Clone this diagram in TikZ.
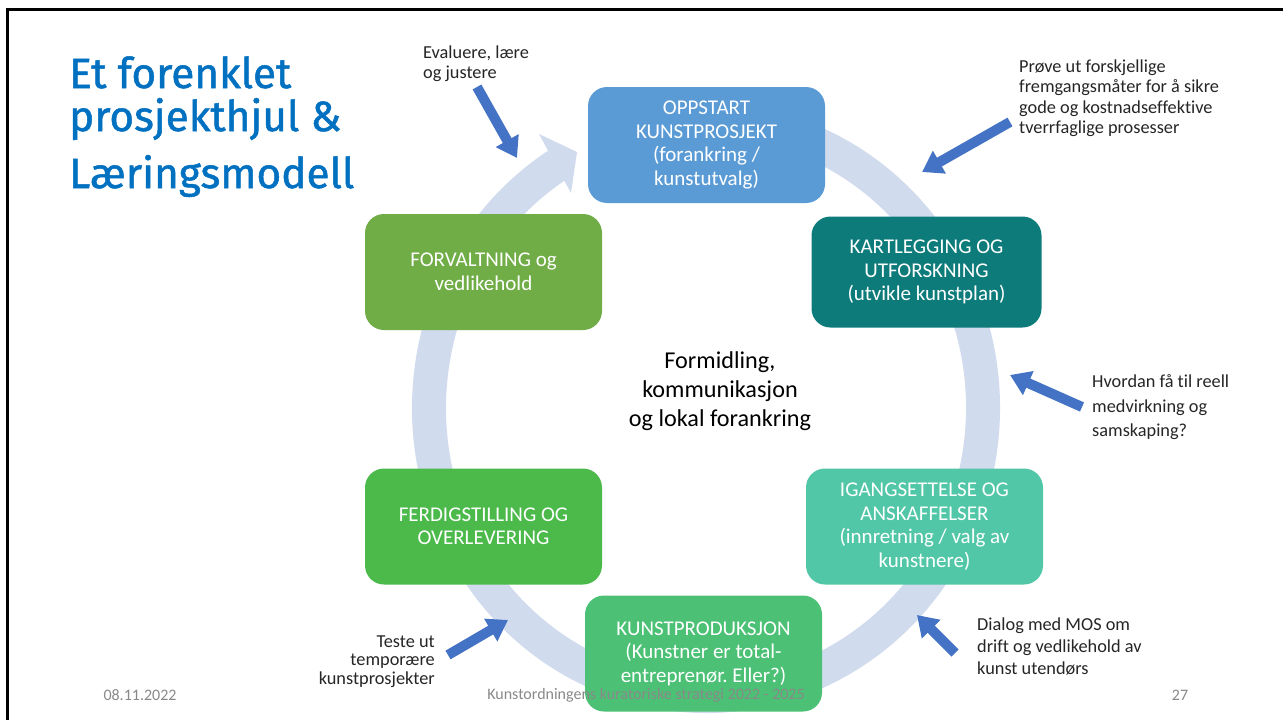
\documentclass[tikz,border=0pt]{standalone}
\usepackage{fontspec}
\setmainfont{Carlito}[Ligatures=NoCommon]
\newfontfamily\titlefont{Fira Sans}[FakeBold=1.2]
\usetikzlibrary{arrows.meta,calc}
\frenchspacing
\definecolor{ringc}{RGB}{208,219,238}
\definecolor{cblue}{RGB}{91,155,213}
\definecolor{cteal}{RGB}{14,123,123}
\definecolor{cmint}{RGB}{82,199,167}
\definecolor{cgreenA}{RGB}{76,193,117}
\definecolor{cgreenB}{RGB}{75,186,75}
\definecolor{cgreenC}{RGB}{112,173,71}
\definecolor{arrowblue}{RGB}{68,114,196}
\definecolor{titleblue}{RGB}{0,112,192}
\definecolor{annot}{RGB}{38,38,38}
\definecolor{footgrey}{RGB}{137,137,137}
\tikzset{
  stagebox/.style={rounded corners=19pt, minimum width=237pt, minimum height=116pt,
    align=center, text=white, inner sep=0pt, font=\fontsize{21}{23.5}\selectfont},
  annotext/.style={text=annot, inner sep=0pt, font=\fontsize{18.3}{20.5}\selectfont},
  barrow/.style={draw=arrowblue, line width=10pt, -{Triangle[width=25pt,length=20pt]}},
  foot/.style={text=footgrey, inner sep=0pt, font=\fontsize{16}{18}\selectfont},
  titletxt/.style={text=titleblue, inner sep=0pt, anchor=base west, font=\titlefont\fontsize{42.3}{46}\selectfont}
}
\begin{document}
\begin{tikzpicture}[x=1pt,y=1pt]
\useasboundingbox (0,0) rectangle (1283,-720);
\fill[white] (0,0) rectangle (1283,-720);
\draw[line width=2.5pt] (7.5,-720) -- (7.5,-9.5) -- (1283,-9.5);

% title
\node[titletxt] (t1) at (69,-88) {Et forenklet};
\node[titletxt] (t2) at (69,-131) {prosjekthjul \&};
\node[titletxt] (t3) at (69,-188) {Læringsmodell};

% ring
\coordinate (c) at (706,-408);
\draw[ringc, line width=34pt] ($(c)+(122.5:277 and 288)$) arc[start angle=122.5, end angle=460, x radius=277, y radius=288];
\fill[ringc] (539,-134) -- (577,-152) -- (571,-193) -- cycle;

% boxes
\node[stagebox, fill=cblue] (s1) at (706.5,-145) {OPPSTART\\KUNSTPROSJEKT\\(forankring /\\kunstutvalg)};
\node[stagebox, fill=cteal, minimum width=230pt, minimum height=111pt] (s2) at (926.5,-272) {KARTLEGGING OG\\UTFORSKNING\\(utvikle kunstplan)};
\node[stagebox, fill=cmint] (s3) at (924.5,-526.5) {IGANGSETTELSE OG\\ANSKAFFELSER\\(innretning / valg av\\kunstnere)};
\node[stagebox, fill=cgreenA] (s4) at (703.5,-653.5) {KUNSTPRODUKSJON\\(Kunstner er total-\\entreprenør. Eller?)};
\node[stagebox, fill=cgreenB] (s5) at (483.5,-526.5) {FERDIGSTILLING OG\\OVERLEVERING};
\node[stagebox, fill=cgreenC] (s6) at (483.5,-272) {FORVALTNING og\\vedlikehold};

% center text
\node[align=center, inner sep=0pt, font=\fontsize{24.2}{29}\selectfont] (mid) at (720,-391) {Formidling,\\kommunikasjon\\og lokal forankring};

% annotations
\node[annotext, anchor=west, align=left] (a1) at (423,-63.5) {Evaluere, lære\\og justere};
\node[annotext, anchor=west, align=left] (a2) at (1019,-98) {Prøve ut forskjellige\\fremgangsmåter for å sikre\\gode og kostnadseffektive\\tverrfaglige prosesser};
\node[annotext, anchor=west, align=left, font=\fontsize{18.3}{24.5}\selectfont] (a3) at (1092,-407.5) {Hvordan få til reell\\medvirkning og\\samskaping?};
\node[annotext, anchor=west, align=left, font=\fontsize{18.3}{22}\selectfont] (a4) at (977,-646) {Dialog med MOS om\\drift og vedlikehold av\\kunst utendørs};
\node[annotext, anchor=east, align=right, font=\fontsize{18.3}{18.5}\selectfont] (a5) at (435,-661.5) {Teste ut\\temporære\\kunstprosjekter};

% blue arrows
\coordinate (e1a) at (477,-87);   \coordinate (e1b) at (517,-158);
\coordinate (e2a) at (1010,-122); \coordinate (e2b) at (922,-172);
\coordinate (e3a) at (1082,-407); \coordinate (e3b) at (1010,-375);
\coordinate (e4a) at (955,-653);  \coordinate (e4b) at (917,-615);
\coordinate (e5a) at (448,-655);  \coordinate (e5b) at (508,-620);
\draw[barrow] (e1a) -- (e1b);
\draw[barrow] (e2a) -- (e2b);
\draw[barrow] (e3a) -- (e3b);
\draw[barrow] (e4a) -- (e4b);
\draw[barrow] (e5a) -- (e5b);

% footer
\node[foot] (date) at (140,-695) {08.11.2022};
\node[foot] (ftxt) at (646,-695) {Kunstordningens kuratoriske strategi 2022 - 2025};
\node[foot] (pg) at (1180,-695) {27};
\end{tikzpicture}
\end{document}
